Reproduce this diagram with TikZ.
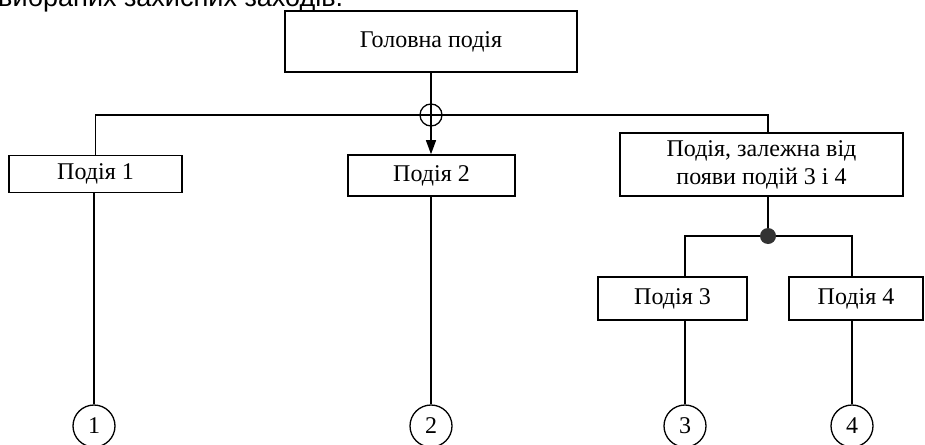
\documentclass[tikz,border=0pt]{standalone}
\usepackage{fontspec}
\setmainfont{Liberation Serif}
\newfontfamily\captfont{Liberation Sans}
\usetikzlibrary{arrows.meta}
\tikzset{
  event/.style={draw, line width=1.6pt, inner sep=0pt, align=center, font=\fontsize{24}{28}\selectfont},
  leaf/.style={draw, circle, line width=1.3pt, minimum size=42pt, inner sep=0pt, font=\fontsize{24}{28}\selectfont},
  wire/.style={line width=1.3pt}
}

\begin{document}
\begin{tikzpicture}[x=1pt, y=-1pt]
  \useasboundingbox (0,0) rectangle (925,444);
  \clip (0,0) rectangle (925,444);
  \node[anchor=base west, inner sep=0pt, font=\captfont\fontsize{27}{30}\selectfont] (caption) at (-2,7) {вибраних захисних заходів.};

  \node[event, minimum width=292pt, minimum height=61pt] (top) at (431,41.5) {Головна подія};
  \node[event, minimum width=173pt, minimum height=37pt] (ev1) at (95.5,174) {Подія 1};
  \node[event, minimum width=167pt, minimum height=41pt] (ev2) at (431.5,175.5) {Подія 2};
  \node[event, minimum width=283pt, minimum height=63pt] (evc) at (761.5,164.5) {Подія, залежна від\\появи подій 3 і 4};
  \node[event, minimum width=149pt, minimum height=43pt] (ev3) at (672.5,298.5) {Подія 3};
  \node[event, minimum width=134pt, minimum height=43pt] (ev4) at (856,298.5) {Подія 4};

  \node[draw, circle, wire, minimum size=22pt, inner sep=0pt] (orgate) at (431,115) {};
  \node[circle, fill=black!80, minimum size=16pt, inner sep=0pt] (andgate) at (768,236) {};

  \foreach \n/\x in {1/94, 2/431, 3/685, 4/852}
    \node[leaf] (leaf\n) at (\x,426) {\n};

  \draw[wire] (top) -- (orgate);
  \draw[wire] (orgate.north) -- (orgate.south) (orgate.west) -- (orgate.east);
  \draw[wire, -{Triangle[length=14pt, width=10pt]}] (orgate) -- (orgate |- ev2.north);
  \draw[wire] (orgate.west) -| (ev1);
  \draw[wire] (orgate.east) -| (evc.north -| andgate);
  \draw[wire] (evc.south -| andgate) -- (andgate);
  \draw[wire] (andgate) -| (ev3.north -| leaf3);
  \draw[wire] (andgate) -| (ev4.north -| leaf4);
  \foreach \n in {1,...,4}
    \draw[wire] (ev\n.south -| leaf\n) -- (leaf\n);
\end{tikzpicture}
\end{document}
